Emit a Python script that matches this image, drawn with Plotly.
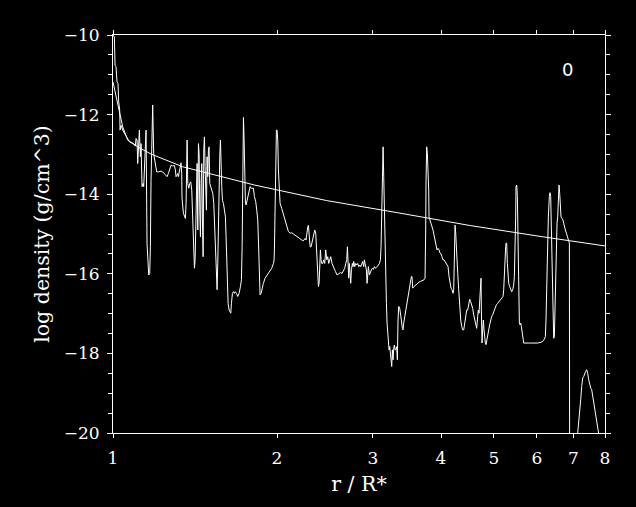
import plotly.graph_objects as go

# smooth (reference) density profile
r_smooth = [1.0, 1.0085, 1.020, 1.042, 1.064, 1.110, 1.174, 1.342, 1.819, 2.467, 3.345, 4.534, 6.150, 8.0]
logrho_smooth = [-11.18, -11.43, -11.71, -12.31, -12.64, -12.81, -12.99, -13.31, -13.77, -14.16, -14.47, -14.79, -15.07, -15.30]

# model density profile (snapshot 0)
r_model = [
    1.000, 1.0058, 1.0087, 1.0129, 1.0172, 1.0215, 1.0244, 1.0287, 1.0302, 1.0345, 1.0419, 1.0492, 1.0567, 1.0641,
    1.0716, 1.0792, 1.0868, 1.0945, 1.0992, 1.1023, 1.1070, 1.1101, 1.1148, 1.1180, 1.1227, 1.1258, 1.1306, 1.1354,
    1.1386, 1.1418, 1.1450, 1.1499, 1.1547, 1.1596, 1.1629, 1.1679, 1.1712, 1.1744, 1.1794, 1.1827, 1.1877, 1.1944,
    1.2029, 1.2113, 1.2251, 1.2338, 1.2425, 1.2513, 1.2566, 1.2638, 1.2728, 1.2780, 1.2871, 1.2962, 1.3016, 1.3053,
    1.3108, 1.3145, 1.3183, 1.3239, 1.3295, 1.3332, 1.3369, 1.3388,
    1.3467, 1.3524, 1.3581, 1.3619, 1.3658, 1.3678, 1.3716, 1.3774, 1.3832, 1.3891, 1.3950, 1.3989, 1.4029, 1.4069,
    1.4108, 1.4148, 1.4188, 1.4228, 1.4268, 1.4309, 1.4349, 1.4390, 1.4430, 1.4471, 1.4512, 1.4553, 1.4594, 1.4635,
    1.4676, 1.4717, 1.4759, 1.4801, 1.4842, 1.4884, 1.4926, 1.4968, 1.5010, 1.5053, 1.5117, 1.5181, 1.5245, 1.5310,
    1.5353, 1.5396, 1.5440, 1.5483, 1.5527, 1.5570, 1.5614, 1.5658, 1.5703, 1.5747, 1.5791, 1.5836, 1.5881, 1.5948,
    1.6016, 1.6083, 1.6128, 1.6174, 1.6220, 1.6266, 1.6335, 1.6404, 1.6450, 1.6497, 1.6567, 1.6636, 1.6706, 1.6754,
    1.6849, 1.6944, 1.7040, 1.7137, 1.7210, 1.7259, 1.7283, 1.7307, 1.7356, 1.7405, 1.7453, 1.7502, 1.7551, 1.7626,
    1.7701, 1.7775, 1.7851, 1.7926,
    1.8102, 1.8178, 1.8281, 1.8360, 1.8437, 1.8489, 1.8541, 1.8567, 1.8619, 1.8698, 1.8804, 1.8883, 1.9017, 1.9153,
    1.9287, 1.9424, 1.9561, 1.9699, 1.9755, 1.9783, 1.9838, 1.9894, 1.9950, 2.0006, 2.0064, 2.0120, 2.0177, 2.0263,
    2.0405, 2.0520, 2.0637, 2.0754, 2.0871, 2.0989, 2.1137, 2.1287, 2.1437, 2.1588, 2.1741, 2.1895, 2.2050, 2.2206,
    2.2363, 2.2521, 2.2616, 2.2680, 2.2776, 2.2840, 2.2936, 2.3003, 2.3100, 2.3164, 2.3262, 2.3360, 2.3459, 2.3558,
    2.3625, 2.3691, 2.3759, 2.3826, 2.3894, 2.3961, 2.4029, 2.4095, 2.4164, 2.4266,
    2.4367, 2.4470, 2.4574, 2.4679, 2.4781, 2.4888, 2.4993, 2.5098, 2.5239, 2.5419, 2.5598, 2.5780, 2.5963, 2.6146,
    2.6331, 2.6517, 2.6631, 2.6743, 2.6857, 2.6933, 2.7008, 2.7081, 2.7159, 2.7235, 2.7313, 2.7391, 2.7505, 2.7583,
    2.7662, 2.7778, 2.7898, 2.8015, 2.8134, 2.8254, 2.8373, 2.8492, 2.8612, 2.8734, 2.8856, 2.8938, 2.9019, 2.9101,
    2.9184, 2.9265, 2.9348, 2.9430, 2.9555, 2.9681, 2.9806, 2.9932, 3.0059, 3.0186, 3.0315, 3.0444, 3.0571, 3.0700,
    3.0829, 3.0962, 3.1048, 3.1136, 3.1224, 3.1314, 3.1402, 3.1492, 3.1580, 3.1670, 3.1760, 3.1847, 3.1938, 3.2026,
    3.2116, 3.2208, 3.2299, 3.2391, 3.2481, 3.2574, 3.2664, 3.2757, 3.2849, 3.2942,
    3.3030, 3.3169, 3.3264, 3.3357, 3.3453, 3.3591, 3.3687, 3.3829, 3.3974, 3.4070, 3.4166, 3.4312, 3.4456, 3.4602,
    3.4748, 3.4896, 3.5045, 3.5193, 3.5293, 3.5392, 3.5491, 3.5692, 3.5944, 3.6198, 3.6454, 3.6710, 3.6972, 3.7235,
    3.7393, 3.7446, 3.7496, 3.7549, 3.7654, 3.7763, 3.7869, 3.7975, 3.8027, 3.8190, 3.8351, 3.8513, 3.8675, 3.8840,
    3.9005, 3.9170, 3.9335, 3.9504, 3.9669, 3.9837, 4.0006, 4.0174, 4.0346, 4.0518, 4.0690, 4.0861, 4.1036, 4.1212,
    4.1383, 4.1558, 4.1733, 4.1912, 4.2087, 4.2206, 4.2325, 4.2447, 4.2565, 4.2688, 4.2807, 4.2929, 4.3111, 4.3292,
    4.3474, 4.3659, 4.3844, 4.4029, 4.4214, 4.4403, 4.4591,
    4.4776, 4.4965, 4.5157, 4.5350, 4.5537, 4.5734, 4.5927, 4.6119, 4.6316, 4.6513, 4.6709, 4.6840, 4.6975, 4.7104,
    4.7239, 4.7372, 4.7440, 4.7574, 4.7709, 4.7843, 4.7977, 4.8112, 4.8246, 4.8385, 4.8524, 4.8726, 4.8936, 4.9142,
    4.9352, 4.9558, 4.9764, 4.9975, 5.0261, 5.0543, 5.0830, 5.1116, 5.1407, 5.1698, 5.1989, 5.2137, 5.2283, 5.2428,
    5.2576, 5.2652, 5.2800, 5.2952, 5.3100, 5.3252, 5.3476, 5.3704, 5.3928, 5.4157, 5.4385, 5.4540, 5.4694, 5.4846,
    5.4927, 5.5079, 5.5236, 5.5392, 5.5549, 5.5706, 5.5863, 5.6019, 5.6176, 5.6337, 5.6494, 5.6736, 5.8115, 5.9771,
    6.0192, 6.1046, 6.1480, 6.1912, 6.2172, 6.2347, 6.2527, 6.2612, 6.2791, 6.2967, 6.3232, 6.3412, 6.3593, 6.3773,
    6.3954, 6.4135, 6.4225, 6.4405, 6.4586, 6.4767, 6.4953, 6.5134, 6.5320, 6.5502, 6.5688, 6.5874, 6.6061, 6.6247,
    6.6432, 6.6711, 6.6994, 6.7186, 6.7375, 6.7662, 6.7945, 6.8234, 6.8426, 6.8619, 6.8818, 6.8915, 6.9793,
    7.1280, 7.1586, 7.1887, 7.2194, 7.2495, 7.2802, 7.3109, 7.3422, 7.3729, 7.4042, 7.4358, 7.4674, 7.4993, 7.5306,
    7.5625, 7.5944, 7.6269, 7.6588, 7.6913, 7.7238, 7.7569, 7.7894, 7.8670,
]
logrho_model = [
    -10.00, -10.05, -10.76, -10.80, -11.18, -11.22, -11.68, -11.89, -12.39, -12.27, -12.39, -12.47, -12.56, -12.64,
    -12.68, -12.71, -12.71, -12.77, -12.79, -12.60, -12.64, -13.23, -12.81, -12.39, -13.06, -12.73, -13.81, -13.73,
    -13.81, -13.23, -12.64, -12.39, -15.23, -15.57, -16.03, -15.99, -15.32, -13.65, -12.56, -11.76, -12.98, -13.23,
    -13.44, -13.44, -13.42, -13.44, -13.48, -13.52, -13.56, -13.48, -13.35, -13.27, -13.29, -13.28, -13.39, -13.56,
    -13.52, -13.48, -13.56, -13.39, -13.27, -13.21, -13.48, -14.10,
    -14.48, -14.57, -14.61, -14.23, -13.56, -12.64, -13.73, -13.85, -13.73, -13.69, -13.90, -14.57, -15.07, -15.57,
    -15.86, -15.65, -14.73, -13.73, -13.23, -14.90, -12.73, -12.98, -14.40, -15.07, -13.73, -13.23, -14.65, -15.57,
    -12.89, -12.56, -13.31, -13.73, -14.40, -13.06, -13.56, -12.89, -12.81, -13.73, -13.81, -13.90, -13.98, -14.23,
    -14.73, -15.40, -15.82, -16.24, -16.40, -15.74, -14.57, -13.81, -13.06, -12.64, -13.56, -13.81, -14.15, -14.23,
    -14.40, -14.57, -15.07, -15.74, -16.40, -16.74, -16.91, -16.95, -16.99, -16.74, -16.49, -16.45, -16.49, -16.45,
    -16.49, -16.57, -16.49, -16.32, -16.15, -15.32, -14.06, -12.73, -12.07, -12.64, -13.56, -14.23, -14.27, -14.15,
    -13.98, -13.85, -13.81, -13.85,
    -13.85, -14.06, -14.19, -14.40, -14.65, -15.15, -15.74, -16.49, -16.53, -16.49, -16.32, -16.24, -16.11, -16.05,
    -15.99, -15.94, -15.86, -15.74, -15.65, -15.40, -14.40, -13.23, -12.39, -12.39, -12.64, -13.39, -13.90, -14.23,
    -14.36, -14.48, -14.61, -14.73, -14.86, -14.94, -14.98, -14.97, -15.00, -15.03, -15.07, -15.11, -15.13, -15.15,
    -15.17, -15.11, -15.15, -14.98, -14.82, -14.78, -15.11, -15.32, -15.32, -15.23, -15.11, -14.98, -14.90, -14.98,
    -15.32, -15.65, -15.90, -16.32, -16.24, -15.57, -15.40, -15.65, -15.74, -15.74,
    -15.65, -15.74, -15.40, -15.65, -15.57, -15.74, -15.65, -15.57, -15.74, -15.86, -15.94, -16.03, -15.99, -15.97,
    -15.99, -15.90, -15.86, -15.74, -15.65, -15.32, -15.74, -16.11, -15.74, -16.11, -16.24, -15.90, -15.74, -15.82,
    -15.69, -15.82, -15.74, -15.78, -15.74, -15.82, -15.78, -15.82, -15.74, -15.69, -15.82, -15.65, -15.74, -15.82,
    -15.90, -16.24, -16.07, -15.82, -16.03, -15.94, -15.90, -15.86, -15.89, -15.82, -15.86, -15.84, -15.79, -15.78,
    -15.74, -15.65, -15.32, -14.40, -13.48, -12.81, -13.56, -14.57, -15.32, -16.24, -16.74, -17.24, -17.58, -17.70,
    -17.91, -17.83, -17.99, -18.12, -18.33, -17.91, -18.16, -17.87, -17.79, -17.91,
    -17.91, -17.83, -18.16, -17.16, -16.82, -16.86, -17.07, -17.16, -17.37, -17.41, -17.24, -17.07, -16.91, -16.74,
    -16.57, -16.40, -16.24, -16.11, -16.07, -16.07, -16.36, -16.32, -16.28, -16.24, -16.21, -16.19, -16.17, -16.15,
    -16.11, -15.74, -14.90, -13.65, -12.81, -12.98, -13.39, -13.90, -14.57, -14.65, -14.69, -14.82, -14.90, -15.03,
    -15.15, -15.28, -15.40, -15.36, -15.40, -15.48, -15.50, -15.57, -15.65, -15.65, -15.69, -15.74, -15.79, -15.82,
    -16.07, -16.24, -16.36, -16.40, -16.49, -16.40, -15.07, -14.78, -14.98, -15.23, -15.57, -15.99, -16.40, -16.82,
    -17.16, -17.32, -17.41, -17.41, -17.24, -17.07, -16.91,
    -16.91, -16.78, -16.64, -16.70, -16.78, -16.87, -17.03, -17.16, -17.24, -17.37, -17.07, -16.91, -16.99, -16.57,
    -16.24, -16.11, -16.91, -17.74, -17.41, -17.16, -17.41, -17.66, -17.74, -17.78, -17.66, -17.53, -17.41, -17.28,
    -17.16, -17.07, -17.03, -16.95, -16.87, -16.78, -16.74, -16.70, -16.66, -16.62, -16.57, -16.40, -15.90, -15.57,
    -15.32, -15.23, -15.23, -15.74, -16.07, -16.24, -16.32, -16.40, -16.45, -16.40, -16.28, -16.07, -15.57, -14.57,
    -13.81, -13.77, -14.06, -15.57, -16.57, -17.24, -17.28, -17.24, -17.32, -17.49, -17.62, -17.74, -17.74, -17.74,
    -17.74, -17.72, -17.70, -17.64, -17.58, -17.16, -16.24, -15.74, -14.90, -14.57, -14.05, -13.96, -14.06, -14.90,
    -15.90, -16.49, -17.41, -17.62, -17.58, -16.74, -15.74, -15.23, -14.73, -14.57, -14.15, -13.77, -13.98, -14.40,
    -14.57, -14.61, -14.65, -14.73, -14.82, -14.90, -14.98, -15.07, -15.11, -15.15, -15.23, -22.50, -21.00,
    -20.00, -19.75, -19.50, -19.16, -18.83, -18.62, -18.58, -18.50, -18.45, -18.41, -18.50, -18.66, -18.83, -18.87,
    -18.91, -19.08, -19.25, -19.42, -19.58, -19.75, -19.92, -20.02, -21.17,
]

x_ticks = [1, 2, 3, 4, 5, 6, 7, 8]
x_ticklabels = ["1", "2", "3", "4", "5", "6", "7", "8"]
y_ticks = [-20, -18, -16, -14, -12, -10]
panel_label = "0"

fig = go.Figure()
fig.add_trace(go.Scatter(x=r_smooth, y=logrho_smooth, mode="lines",
                         line=dict(color="white", width=1), showlegend=False, hoverinfo="skip"))
fig.add_trace(go.Scatter(x=r_model, y=logrho_model, mode="lines",
                         line=dict(color="white", width=1), showlegend=False, hoverinfo="skip"))

fig.update_layout(
    width=636, height=507, autosize=False,
    margin=dict(l=113, r=31, t=35, b=74, pad=0),
    paper_bgcolor="black", plot_bgcolor="black",
    font=dict(family="DejaVu Serif", size=17, color="white"),
    xaxis=dict(
        type="log", range=[0, 0.90309],
        tickvals=x_ticks, ticktext=x_ticklabels,
        ticks="outside", ticklen=4, tickwidth=1, tickcolor="white",
        showline=True, linecolor="white", linewidth=1, mirror="ticks",
        showgrid=False, zeroline=False,
        ticklabelstandoff=6,
        tickfont=dict(family="DejaVu Serif", size=17, color="white"),
        title=dict(text="r / R*", font=dict(family="DejaVu Serif", size=20.5, color="white"), standoff=9),
    ),
    yaxis=dict(
        range=[-20, -10],
        tickvals=y_ticks,
        ticks="outside", ticklen=5, tickwidth=1, tickcolor="white",
        minor=dict(dtick=0.5, ticks="outside", ticklen=4, tickcolor="white", tickwidth=1, showgrid=False),
        showline=True, linecolor="white", linewidth=1, mirror="ticks",
        showgrid=False, zeroline=False,
        ticklabelstandoff=4,
        tickfont=dict(family="DejaVu Serif", size=17, color="white"),
        title=dict(text="log density (g/cm^3)", font=dict(family="DejaVu Serif", size=20.5, color="white"), standoff=8),
    ),
    annotations=[dict(text=panel_label, xref="paper", yref="paper", x=0.9228, y=0.9145,
                      showarrow=False, xanchor="center", yanchor="middle",
                      font=dict(family="DejaVu Sans", size=18, color="white"))],
)

fig.write_html(
    "out.html",
    config={"displayModeBar": False},
    post_script="document.body.style.margin='0';document.body.style.background='black';",
)
